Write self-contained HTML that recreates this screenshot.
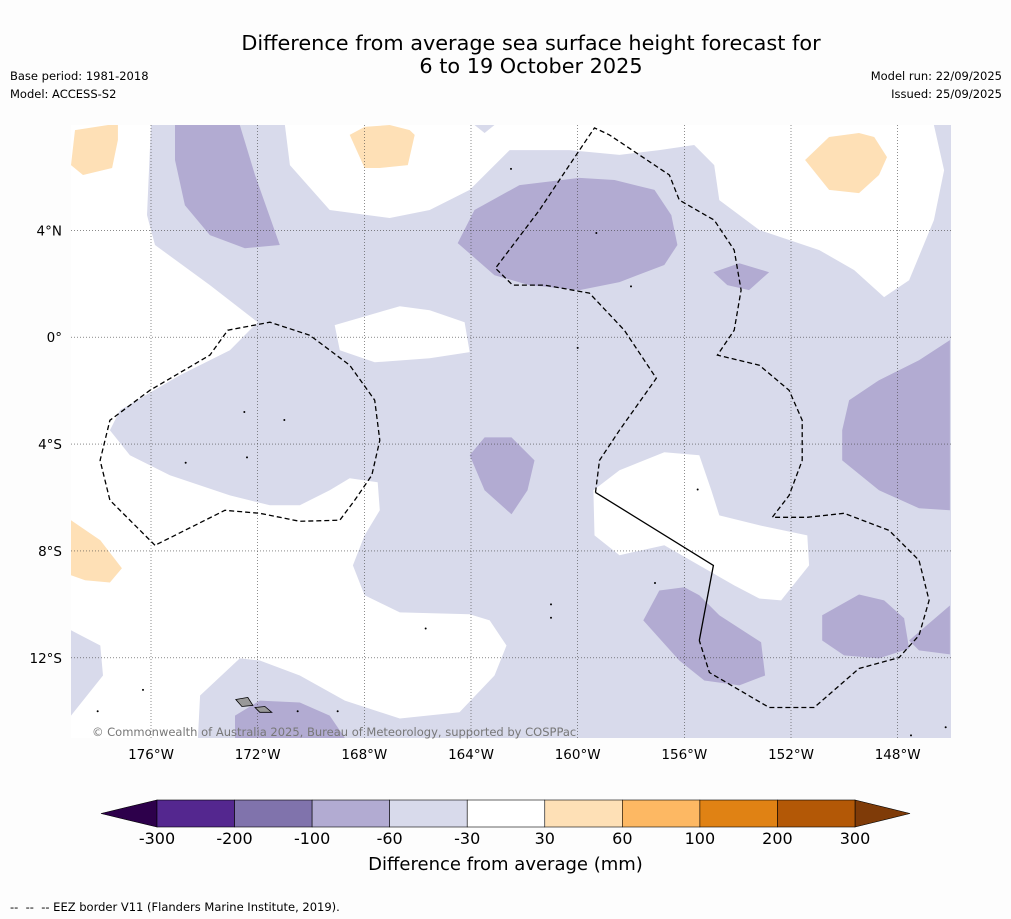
<!DOCTYPE html>
<html><head><meta charset="utf-8">
<style>
body{margin:0;background:#fdfdfd;font-family:"DejaVu Sans","Liberation Sans",sans-serif;}
#wrap{position:relative;width:1011px;height:919px;overflow:hidden;}
.t{position:absolute;white-space:nowrap;color:#000;}
</style></head>
<body>
<div id="wrap">
<div class="t" style="left:0;width:1062px;text-align:center;top:32px;font-size:20.8px;line-height:23px;">Difference from average sea surface height forecast for<br>6 to 19 October 2025</div>
<div class="t" style="left:10px;top:69px;font-size:11.5px;">Base period: 1981-2018</div>
<div class="t" style="left:10px;top:87px;font-size:11.5px;">Model: ACCESS-S2</div>
<div class="t" style="right:9px;top:69px;font-size:11.5px;text-align:right;">Model run: 22/09/2025</div>
<div class="t" style="right:9px;top:87px;font-size:11.5px;text-align:right;">Issued: 25/09/2025</div>
<svg id="svg" width="1011" height="919" style="position:absolute;left:0;top:0"></svg>
<div class="t" style="left:0;width:1011px;text-align:center;top:854px;font-size:18px;">Difference from average (mm)</div>
<div class="t" style="left:10px;top:900px;font-size:11.5px;">-- &nbsp;-- &nbsp;-- EEZ border V11 (Flanders Marine Institute, 2019).</div>
</div>
<script>
const lonTicks=[-176,-172,-168,-164,-160,-156,-152,-148];
const latTicks=[4,0,-4,-8,-12];
const cbLevels=[-300,-200,-100,-60,-30,30,60,100,200,300];
const cbColors=["#54278f","#8073ac","#b2abd2","#d8daeb","#ffffff","#fee0b6","#fdb863","#e08214","#b35806"];
const cbExtendLow="#2d004b", cbExtendHigh="#7f3b08";
const whiteRegions=[
[[-179,7.94],[-176,7.94],[-176.15,4.57],[-175.85,3.45],[-173.79,1.95],[-172,0.56],[-173.04,-0.49],[-174.91,-1.42],[-177.16,-2.73],[-177.54,-3.48],[-176.79,-4.42],[-175.29,-5.17],[-173.04,-5.92],[-171.54,-6.29],[-170.42,-6.29],[-169.3,-5.73],[-168.55,-5.28],[-167.5,-5.43],[-167.42,-6.48],[-167.99,-7.42],[-168.43,-8.54],[-167.99,-9.66],[-166.67,-10.3],[-164.05,-10.37],[-163.3,-10.6],[-162.67,-11.54],[-163.12,-12.66],[-164.43,-14.04],[-166.67,-14.27],[-168.73,-13.6],[-170.42,-12.66],[-171.92,-12.1],[-172.67,-12.02],[-174.16,-13.41],[-174.24,-15],[-179,-15],[-179,-14.16],[-177.8,-12.66],[-177.9,-11.54],[-179,-10.97]],
[[-170.98,7.94],[-163.87,7.94],[-163.49,7.64],[-163.12,7.94],[-146.64,7.94],[-146.26,6.25],[-146.64,4.38],[-147.57,2.13],[-148.51,1.5],[-149.63,2.51],[-150.94,3.26],[-153.19,4.01],[-154.69,5.13],[-154.88,6.44],[-155.63,7.19],[-156.94,7.0],[-158.43,6.82],[-160.31,7.0],[-162.55,7.0],[-164.05,5.51],[-165.55,4.76],[-167.05,4.46],[-169.3,4.76],[-170.79,6.44]],
[[-169.11,0.45],[-166.67,1.16],[-165.55,1.01],[-164.24,0.56],[-164.05,-0.56],[-165.55,-0.79],[-167.61,-0.94],[-168.92,-0.49]],
[[-159.41,-5.73],[-159.37,-7.42],[-158.43,-8.16],[-156.75,-7.79],[-155.44,-8.54],[-154.13,-9.29],[-153.19,-9.78],[-152.37,-9.85],[-151.32,-8.54],[-151.39,-7.42],[-153.19,-7.04],[-154.69,-6.67],[-154.99,-5.73],[-155.44,-4.42],[-156.75,-4.31],[-158.43,-4.98]]];
const orangeRegions=[
[[-178.85,7.75],[-177.61,7.94],[-177.24,7.94],[-177.24,7.38],[-177.46,6.33],[-178.55,6.07],[-179,6.44]],
[[-168.55,7.57],[-167.99,7.87],[-167.05,7.94],[-166.3,7.75],[-166.11,7.57],[-166.37,6.44],[-167.42,6.33],[-167.99,6.33]],
[[-151.47,6.63],[-150.57,7.49],[-149.45,7.64],[-148.88,7.49],[-148.4,6.74],[-148.7,6.07],[-149.45,5.39],[-150.57,5.51]],
[[-179,-6.85],[-177.9,-7.6],[-177.09,-8.65],[-177.54,-9.18],[-178.47,-9.1],[-179,-8.91]]];
const purpleRegions=[
[[-175.1,7.94],[-172.67,7.94],[-172.1,6.07],[-171.17,3.45],[-172.48,3.33],[-173.79,3.82],[-174.73,4.94],[-175.1,6.63]],
[[-164.5,3.52],[-163.87,4.76],[-162.18,5.69],[-159.93,5.96],[-158.62,5.88],[-157.12,5.51],[-156.49,4.57],[-156.26,3.45],[-156.75,2.7],[-158.43,2.06],[-159.93,1.76],[-161.81,1.95],[-163.12,2.32]],
[[-154.91,2.43],[-153.94,2.77],[-152.82,2.43],[-153.57,1.76],[-154.39,1.95]],
[[-150.08,-3.48],[-149.82,-2.36],[-148.7,-1.61],[-147.2,-0.86],[-146.04,-0.11],[-146.04,-6.48],[-147.2,-6.4],[-148.7,-5.73],[-150.08,-4.61]],
[[-164.05,-4.42],[-163.49,-3.75],[-162.48,-3.75],[-161.62,-4.61],[-161.88,-5.73],[-162.48,-6.63],[-163.49,-5.73]],
[[-157.54,-10.6],[-156.94,-9.48],[-156.0,-9.36],[-155.44,-9.66],[-154.69,-10.41],[-153.12,-11.42],[-152.97,-12.66],[-153.94,-13.03],[-155.25,-12.85],[-156.19,-12.1]],
[[-150.83,-10.41],[-149.45,-9.63],[-148.51,-9.85],[-147.76,-10.52],[-147.57,-11.65],[-148.7,-12.02],[-150.01,-11.91],[-150.83,-11.35]],
[[-147.57,-11.35],[-146.04,-10.04],[-146.04,-11.87],[-147.2,-11.72]],
[[-172.85,-14.16],[-171.92,-13.6],[-170.42,-13.67],[-169.3,-14.16],[-168.73,-15],[-172.85,-15]]];
const eezDashed=[
[[-175.85,-7.79],[-177.54,-6.1],[-177.91,-4.61],[-177.54,-3.11],[-176.04,-1.99],[-173.79,-0.67],[-173.12,0.26],[-171.54,0.56],[-170.04,0.07],[-168.55,-1.05],[-167.61,-2.36],[-167.42,-3.86],[-167.72,-5.17],[-168.36,-6.1],[-168.92,-6.85],[-170.42,-6.89],[-171.92,-6.59],[-173.23,-6.48],[-175.85,-7.79]],
[[-159.33,-5.81],[-159.18,-4.61],[-158.43,-3.48],[-157.05,-1.54],[-158.25,0.26],[-159.56,1.65],[-161.24,1.95],[-162.44,1.95],[-163.08,2.58],[-161.43,4.76],[-160.31,6.44],[-159.37,7.83],[-158.81,7.57],[-157.69,6.82],[-156.56,6.07],[-156.19,5.13],[-154.88,4.38],[-154.13,3.26],[-153.87,1.76],[-154.13,0.26],[-154.76,-0.67],[-153.19,-1.05],[-152.07,-1.99],[-151.58,-3.11],[-151.58,-4.61],[-152.07,-5.92],[-152.7,-6.74],[-151.39,-6.74],[-150.01,-6.59],[-148.32,-7.23],[-147.2,-8.35],[-146.82,-9.85],[-147.2,-11.16],[-147.95,-11.99],[-149.45,-12.4],[-151.13,-13.86],[-152.82,-13.86],[-155.06,-12.55],[-155.44,-11.35]]];
const eezSolid=[[-159.33,-5.81],[-154.91,-8.54],[-155.44,-11.35]];
const savaii=[[-172.82,-13.56],[-172.37,-13.48],[-172.18,-13.78],[-172.59,-13.82]];
const upolu=[[-172.1,-13.86],[-171.73,-13.82],[-171.47,-14.04],[-171.92,-14.04]];
const islands=[[-176.3,-13.2],[-178.0,-14.0],[-169.0,-14.0],[-170.5,-14.0],[-165.7,-10.9],[-161.0,-10.0],[-161.0,-10.5],[-157.1,-9.2],[-155.5,-5.7],[-160.0,-0.4],[-172.5,-2.8],[-174.7,-4.7],[-172.4,-4.5],[-171.0,-3.1],[-162.5,6.3],[-158.0,1.9],[-159.3,3.9],[-147.5,-14.9],[-146.2,-14.6]];

const NS="http://www.w3.org/2000/svg";
const svg=document.getElementById('svg');
const L=71,R=951,T=125,B=738,lon0=-179,lon1=-146,lat0=-15,lat1=7.94;
const xS=lon=>L+(lon-lon0)/(lon1-lon0)*(R-L);
const yS=lat=>T+(lat1-lat)/(lat1-lat0)*(B-T);
function mk(tag,attrs){const e=document.createElementNS(NS,tag);for(const k in attrs)e.setAttribute(k,attrs[k]);svg.appendChild(e);return e;}
const pts=a=>a.map(p=>xS(p[0]).toFixed(1)+','+yS(p[1]).toFixed(1)).join(' ');
const defs=mk('defs',{});
const cp=document.createElementNS(NS,'clipPath');cp.setAttribute('id','mc');
const cr=document.createElementNS(NS,'rect');cr.setAttribute('x',L);cr.setAttribute('y',T);cr.setAttribute('width',R-L);cr.setAttribute('height',B-T);cp.appendChild(cr);defs.appendChild(cp);
const g=mk('g',{'clip-path':'url(#mc)'});
function add(tag,attrs,name){const e=document.createElementNS(NS,tag);for(const k in attrs)e.setAttribute(k,attrs[k]);


g.appendChild(e);return e;}
add('rect',{x:L,y:T,width:R-L,height:B-T,fill:cbColors[3]},'map-background');
whiteRegions.forEach(r=>add('polygon',{points:pts(r),fill:cbColors[4]},'near-average-region'));
orangeRegions.forEach(r=>add('polygon',{points:pts(r),fill:cbColors[5]},'above-average-region'));
purpleRegions.forEach(r=>add('polygon',{points:pts(r),fill:cbColors[2]},'below-average-region'));
lonTicks.forEach(l=>add('line',{x1:xS(l),x2:xS(l),y1:T,y2:B,stroke:'#444','stroke-width':0.6,'stroke-dasharray':'1,2'},'lon-gridline'));
latTicks.forEach(l=>add('line',{x1:L,x2:R,y1:yS(l),y2:yS(l),stroke:'#444','stroke-width':0.6,'stroke-dasharray':'1,2'},'lat-gridline'));
eezDashed.forEach(d=>add('polyline',{points:pts(d),fill:'none',stroke:'#000','stroke-width':1.3,'stroke-dasharray':'5,3'},'eez-border'));
add('polyline',{points:pts(eezSolid),fill:'none',stroke:'#000','stroke-width':1.3},'eez-border-solid');
add('polygon',{points:pts(savaii),fill:'#999',stroke:'#000','stroke-width':0.8},'island-savaii');
add('polygon',{points:pts(upolu),fill:'#999',stroke:'#000','stroke-width':0.8},'island-upolu');
islands.forEach(p=>add('circle',{cx:xS(p[0]),cy:yS(p[1]),r:1,fill:'#000'},'island'));
const cpy=mk('text',{x:92,y:736,'font-size':11.5,fill:'#777','font-family':'DejaVu Sans'});
cpy.textContent='© Commonwealth of Australia 2025, Bureau of Meteorology, supported by COSPPac';


lonTicks.forEach(l=>{const t=mk('text',{x:xS(l),y:759,'font-size':13.5,'text-anchor':'middle','font-family':'DejaVu Sans'});t.textContent=Math.abs(l)+'°W';

});
latTicks.forEach(l=>{const t=mk('text',{x:62,y:yS(l)+5,'font-size':13.5,'text-anchor':'end','font-family':'DejaVu Sans'});t.textContent=l===0?'0°':Math.abs(l)+'°'+(l>0?'N':'S');

});
const cbL=157,cbR=855,cbT=800,cbB=827,n=cbColors.length,w=(cbR-cbL)/n;
const lo=mk('polygon',{points:`${cbL},${cbT} ${cbL},${cbB} 101,${(cbT+cbB)/2}`,fill:cbExtendLow,stroke:'#000','stroke-width':0.6});


const hi=mk('polygon',{points:`${cbR},${cbT} ${cbR},${cbB} 910,${(cbT+cbB)/2}`,fill:cbExtendHigh,stroke:'#000','stroke-width':0.6});


cbColors.forEach((c,i)=>{const r=mk('rect',{x:cbL+i*w,y:cbT,width:w,height:cbB-cbT,fill:c,stroke:'#000','stroke-width':0.6});

});
cbLevels.forEach((v,i)=>{const t=mk('text',{x:cbL+i*w,y:844,'font-size':16,'text-anchor':'middle','font-family':'DejaVu Sans'});t.textContent=v;

});
</script>
</body></html>
